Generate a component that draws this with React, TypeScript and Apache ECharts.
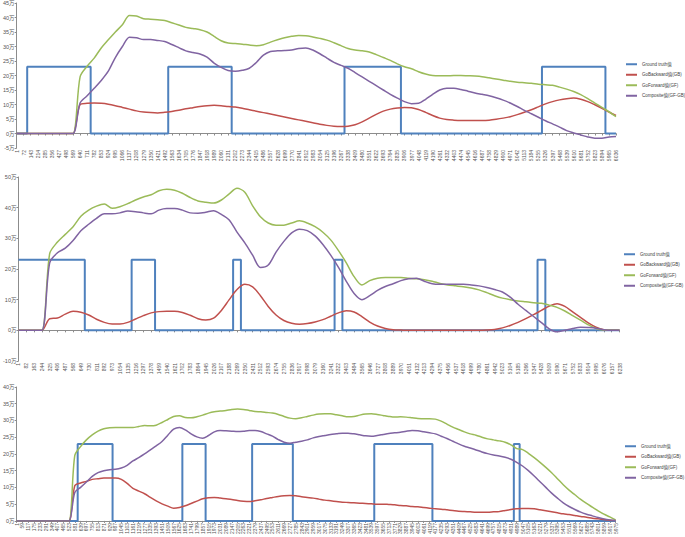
import React, { useEffect, useRef } from "react";
import * as echarts from "echarts";

const FONT = '"Liberation Sans", Arial, "Noto Sans CJK SC", sans-serif';
const SERIES_NAMES = ["Ground truth值", "GoBackward值(GB)", "GoForward值(GF)", "Composite值(GF-GB)"];
const COLORS = ["#4F81BD", "#C0504D", "#9BBB59", "#8064A2"];
const UNIT = "万";

// category label sequences (frame numbers shown on the x axes)
const C1_START = 1, C1_STEP = 71, C1_COUNT = 86;
const C2_START = 1, C2_STEP = 81, C2_COUNT = 78;
const C3_START = 1, C3_STEP = 58, C3_COUNT = 104;
const cats = (start: number, step: number, count: number) =>
  Array.from({ length: count }, (_, i) => String(start + i * step));
const categories1 = cats(C1_START, C1_STEP, C1_COUNT);
const categories2 = cats(C2_START, C2_STEP, C2_COUNT);
const categories3 = cats(C3_START, C3_STEP, C3_COUNT);

// ---------- chart 1 ----------
const gt1 = [0,0, 23,23,23,23,23,23,23,23,23, 0,0,0,0,0,0,0,0,0,0,0, 23,23,23,23,23,23,23,23,23,
  0,0,0,0,0,0,0,0,0,0,0,0,0,0,0,0, 23,23,23,23,23,23,23,23,
  0,0,0,0,0,0,0,0,0,0,0,0,0,0,0,0,0,0,0,0, 23,23,23,23,23,23,23,23,23, 0,0];
const gb1 = [0,0,0,0,0,0,0,0,0,
  10,10.4,10.5,10.4,10.1,9.6,9,8.4,7.8,7.4,7.2,7.1,7.3,7.6,8,8.5,8.9,9.3,9.6,9.7,9.6,9.3,
  9.1,8.7,8.2,7.7,7.2,6.7,6.2,5.7,5.2,4.7,
  4.2,3.7,3.2,2.8,2.5,2.4,2.5,3,4,5.3,
  6.6,7.7,8.4,8.8,9,8.9,8.3,7.3,6.2,5.3,
  4.8,4.6,4.5,4.5,4.5,4.5,4.6,4.9,5.3,5.8,
  6.5,7.3,8.2,9.2,10.2,11,11.6,12,12.2,11.8,
  11,9.9,8.7,7.4,6.2];
const gf1 = [0,0,0,0,0,0,0,0,0,
  19.5,23.2,26,29.5,32.3,35,37.5,40.7,40.5,39.6,39.4,39.2,39,38.2,37.4,36.6,36.2,35.8,35,33.5,32,31.2,31,
  30.8,30.5,30.3,30.6,31.5,32.3,33,33.5,33.8,
  33.7,33.3,32.8,32.2,31.3,30.3,29.3,28.8,28.5,28.1,
  27.2,26.2,25.2,24,23,22.3,21.3,20.5,20,19.9,
  19.9,20,20,19.9,19.8,19.6,19.2,18.8,18.4,18,
  17.7,17.5,17.3,17,16.8,16.6,16,15.3,14.5,13.4,
  12,10.5,9,7.5,5.8];
const comp1 = [0,0,0,0,0,0,0,0,0,
  10.5,13,15.6,18.3,21.5,26.2,30,33.2,33,32.4,32.4,32.1,31.7,30.7,29.6,28.5,27.9,27.4,26.3,24.3,22.8,21.7,21.5,
  21.8,22.5,24.5,27,28.3,28.5,28.6,28.8,29.3,
  29.5,28.8,27.5,26,24.5,23.5,22.5,21,19.5,18,
  16.5,15,13.5,12.2,11,10.3,10.4,11.8,13.5,15,
  15.6,15.6,15.2,14.6,14,13.5,13,12.3,11.5,10.5,
  9.3,8,6.8,5.6,4.4,3.3,2.2,1,0.2,-0.5,
  -1.2,-1.6,-1.6,-1.2,-1];

// ---------- chart 2 ----------
const gt2 = [23,23,23,23,23,23,23,23,23, 0,0,0,0,0,0, 23,23,23, 0,0,0,0,0,0,0,0,0,0, 23,
  0,0,0,0,0,0,0,0,0,0,0,0, 23,
  0,0,0,0,0,0,0,0,0,0,0,0,0,0,0,0,0,0,0,0,0,0,0,0,0, 23, 0,0,0,0,0,0,0,0,0,0];
const gb2 = [0,0,0,0,
  3.8,4,5.3,6.2,5.9,5,3.6,2.6,2.1,2.1,
  2.6,3.7,4.8,5.7,6.1,6.2,6.2,5.8,4.9,3.8,
  3.4,4,6.5,10,13.3,15,14.2,11.3,7.8,5,
  3.2,2.3,2,2.2,2.7,3.5,4.6,5.7,6.4,6,
  4.5,2.7,1.4,0.6,0.2,0.1,0,0,0,0,
  0,0,0,0,0,0,0.1,0.3,0.8,1.6,
  2.6,3.8,5.1,6.5,7.9,8.7,7.8,6,4.2,2.4,
  1,0.2,0,0];
const gf2 = [0,0,0,0,
  25,28.8,31.3,33.8,37.2,39.2,40.5,41.2,39.8,40.3,
  41.3,42.5,43.5,44.2,45.5,46,45.7,44.7,43.3,42.2,
  41.8,41.5,42.5,44.5,46.3,45,40.6,37,35,34.3,
  34.3,35,35.7,35,33.8,32,29.5,26,22,17.5,
  14.8,16.2,17,17.2,17.2,17.2,17,16.8,16.5,16,
  15.3,14.8,14.5,14.2,13.8,13.2,12.3,11.3,10.5,10,
  9.6,9.3,9,8.8,8.2,7.5,6.3,4.8,3.3,1.8,
  0.6,0.1,0,0];
const comp2 = [0,0,0,0,
  22,25.3,26.8,29.3,32.5,34.6,36.5,38,38,38.3,
  38.9,38.7,38.3,38,39.2,39.7,39.7,39.2,38.3,38.2,
  38.5,39,37.8,36,32,28.5,24.5,20.5,21.3,25.5,
  29,31.8,33,32.5,30.8,28,24.5,20.5,16,12,
  10,11.3,13,14.3,15.2,16.2,16.8,17,16,15.2,
  15,15,15,15,14.8,14.5,14,13.3,12.5,10.8,
  8.5,6.5,4.5,2.5,0.5,-0.5,0,0.6,1,0.9,
  0.7,0.2,0,0];

// ---------- chart 3 ----------
const gt3 = [0,0,0,0,0,0,0,0,0,0,0, 23,23,23,23,23,23, 0,0,0,0,0,0,0,0,0,0,0,0, 23,23,23,23,
  0,0,0,0,0,0,0,0, 23,23,23,23,23,23,23, 0,0,0,0,0,0,0,0,0,0,0,0,0,0,
  23,23,23,23,23,23,23,23,23,23, 0,0,0,0,0,0,0,0,0,0,0,0,0,0, 23,
  0,0,0,0,0,0,0,0,0,0,0,0,0,0,0,0,0];
const gb3 = [0,0,0,0,0,0,0,0,0,0,
  10.5,11.3,11.8,12.4,12.6,12.8,12.8,12.8,12.4,11.2,
  9.7,8.9,8.1,7,6,5.1,4.4,3.8,4,4.5,
  5.2,5.9,6.6,6.9,7,6.8,6.6,6.4,6.1,5.9,
  5.8,6,6.3,6.7,7,7.3,7.5,7.6,7.5,7.2,
  7,6.8,6.5,6.2,6,5.8,5.6,5.5,5.4,5.3,
  5.2,5.1,5,5,4.9,4.8,4.6,4.5,4.3,4.2,
  4,3.8,3.6,3.5,3.3,3.1,2.9,2.8,2.7,2.6,
  2.6,2.6,2.7,2.8,3.1,3.4,3.6,3.7,3.7,3.6,
  3.3,3,2.7,2.4,2.1,1.9,1.6,1.3,1.1,0.8,
  0.6,0.4,0.2,0.1];
const gf3 = [0,0,0,0,0,0,0,0,0,0,
  19.5,22.2,24.2,25.7,26.8,27.5,27.8,27.9,27.9,27.9,
  27.9,28.2,28.5,28.4,28.6,29.4,30.3,31.2,31.4,30.9,
  30.8,31.1,31.6,32.2,32.6,32.8,33,33.3,33.4,33.3,
  33,32.7,32.6,32.4,32.2,31.8,31.2,30.7,30.5,30.8,
  31.2,31.6,31.9,32,32,31.7,31.4,31.1,31.2,31.6,
  31.9,32,31.8,31.5,31.2,31,31.1,31,30.8,30.6,
  30.5,30.5,30.4,29.8,28.9,28,27.3,26.6,26,25.6,
  25,24.5,24.2,23.9,23.5,22.7,21.6,21.3,20.2,18.9,
  17.5,16,14.4,12.6,10.8,9.2,7.8,6.4,5.2,4.1,
  3,2,1.2,0.3];
const comp3 = [0,0,0,0,0,0,0,0,0,0,
  8.5,10,11.6,13.3,14.4,15,15.3,15.4,15.8,16.6,
  17.9,18.9,20,21.2,22.4,23.7,25.6,27.4,27.9,27.2,
  26,25.1,24.7,25.5,26.6,27,26.9,26.8,26.7,26.8,
  27,27,26.7,26,25.3,24.3,23.5,23.2,23.5,23.8,
  24.2,24.8,25.2,25.5,25.8,26,26.2,26.2,26,25.7,
  25.4,25.3,25.5,25.8,26.1,26.3,26.5,26.8,27,26.9,
  26.6,26.3,26,25.3,24.6,23.8,23,22.3,21.8,21.2,
  20.6,20.1,19.7,19.4,19,18.4,17.5,16.4,15,13.4,
  11.7,10,8.3,6.8,5.4,4.3,3.4,2.6,2,1.5,
  1,0.6,0.3,0.1];

const Y1 = { min: -5, max: 45, interval: 5 };
const Y2 = { min: -10, max: 50, interval: 10 };
const Y3 = { min: 0, max: 40, interval: 5 };

const AXIS_COLOR = "#8c8c8c";
const TEXT_COLOR = "#555555";

function xAxis(gi: number, data: string[]) {
  return {
    type: "category",
    gridIndex: gi,
    data,
    boundaryGap: false,
    axisLine: { onZero: true, lineStyle: { color: AXIS_COLOR, width: 1 } },
    axisTick: { show: true, interval: 0, length: 2, lineStyle: { color: AXIS_COLOR } },
    axisLabel: { interval: 0, rotate: 90, fontSize: 5, margin: 2, color: TEXT_COLOR, fontFamily: FONT },
    splitLine: { show: false },
  };
}
function yAxis(gi: number, r: { min: number; max: number; interval: number }) {
  return {
    type: "value",
    gridIndex: gi,
    min: r.min,
    max: r.max,
    interval: r.interval,
    axisLine: { show: true, lineStyle: { color: AXIS_COLOR, width: 1 } },
    axisTick: { show: true, length: 2, lineStyle: { color: AXIS_COLOR } },
    axisLabel: { fontSize: 5.5, margin: 2, color: TEXT_COLOR, fontFamily: FONT, formatter: "{value}" + UNIT },
    splitLine: { show: false },
  };
}
function series(gi: number, gt: number[], gb: number[], gf: number[], comp: number[]) {
  const base = { type: "line", xAxisIndex: gi, yAxisIndex: gi, symbol: "none", showSymbol: false };
  return [
    { ...base, name: SERIES_NAMES[0], data: gt, step: "middle", lineStyle: { width: 2, color: COLORS[0] }, itemStyle: { color: COLORS[0] } },
    { ...base, name: SERIES_NAMES[1], data: gb, smooth: 0.3, lineStyle: { width: 1.5, color: COLORS[1] }, itemStyle: { color: COLORS[1] } },
    { ...base, name: SERIES_NAMES[2], data: gf, smooth: 0.3, lineStyle: { width: 1.5, color: COLORS[2] }, itemStyle: { color: COLORS[2] } },
    { ...base, name: SERIES_NAMES[3], data: comp, smooth: 0.3, lineStyle: { width: 1.5, color: COLORS[3] }, itemStyle: { color: COLORS[3] } },
  ];
}
function legend(left: number, top: number) {
  return {
    left,
    top,
    orient: "vertical",
    icon: "rect",
    itemWidth: 11,
    itemHeight: 2,
    itemGap: 6,
    selectedMode: false,
    textStyle: { fontSize: 4.5, color: "#404040", fontFamily: FONT },
    data: SERIES_NAMES,
  };
}

export default function App() {
  const ref = useRef<HTMLDivElement>(null);
  useEffect(() => {
    document.body.style.margin = "0";
    if (!ref.current) return;
    const chart = echarts.init(ref.current, null, { renderer: "svg" });
    chart.setOption({
      animation: false,
      backgroundColor: "#ffffff",
      grid: [
        { left: 11, top: 3, width: 605, height: 145 },
        { left: 15, top: 177, width: 604.5, height: 184 },
        { left: 12, top: 387, width: 603.6, height: 138 },
      ],
      xAxis: [xAxis(0, categories1), xAxis(1, categories2), xAxis(2, categories3)],
      yAxis: [yAxis(0, Y1), yAxis(1, Y2), yAxis(2, Y3)],
      legend: [legend(621, 57), legend(619, 247), legend(620, 439)],
      series: [
        ...series(0, gt1, gb1, gf1, comp1),
        ...series(1, gt2, gb2, gf2, comp2),
        ...series(2, gt3, gb3, gf3, comp3),
      ],
    });
    return () => chart.dispose();
  }, []);
  return <div ref={ref} style={{ width: 685, height: 537 }} />;
}
